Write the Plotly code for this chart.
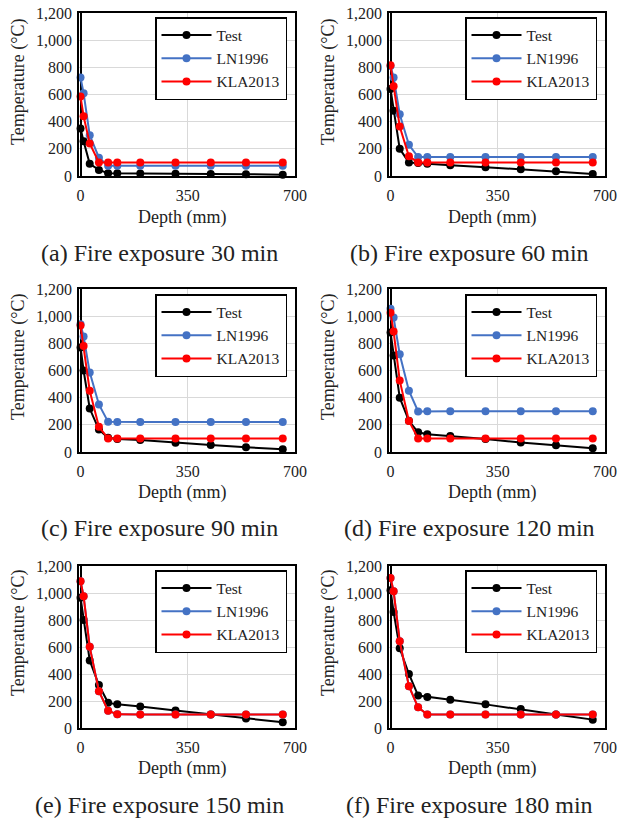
import plotly.graph_objects as go

# ---------------- data ----------------
depth = [0, 10, 30, 60, 90, 120, 195, 310, 425, 540, 660]

test_30 = [350, 255, 90, 45, 20, 20, 18, 16, 15, 13, 10]
ln_30 = [725, 610, 300, 135, 75, 75, 75, 75, 75, 75, 75]
kla_30 = [585, 440, 240, 100, 100, 100, 100, 100, 100, 100, 100]

test_60 = [640, 480, 200, 100, 95, 90, 80, 65, 50, 35, 15]
ln_60 = [810, 725, 455, 230, 140, 140, 140, 140, 140, 140, 140]
kla_60 = [815, 660, 365, 145, 100, 100, 100, 100, 100, 100, 100]

test_90 = [770, 600, 320, 165, 105, 95, 88, 68, 52, 35, 20]
ln_90 = [940, 850, 586, 350, 222, 220, 220, 220, 220, 220, 220]
kla_90 = [931, 781, 451, 185, 100, 100, 100, 100, 100, 100, 100]

test_120 = [880, 710, 400, 230, 145, 130, 118, 95, 70, 50, 27]
ln_120 = [1055, 990, 720, 451, 298, 300, 300, 300, 300, 300, 300]
kla_120 = [1025, 887, 527, 229, 100, 100, 100, 100, 100, 100, 100]

test_150 = [965, 800, 500, 318, 187, 175, 160, 130, 100, 70, 42]
ln_150 = [1087, 976, 601, 273, 128, 101, 100, 100, 100, 100, 100]
kla_150 = [1087, 976, 601, 273, 128, 101, 100, 100, 100, 100, 100]

test_180 = [1020, 860, 590, 400, 240, 230, 210, 175, 140, 100, 62]
ln_180 = [1111, 1013, 643, 310, 153, 100, 100, 100, 100, 100, 100]
kla_180 = [1111, 1013, 643, 310, 153, 100, 100, 100, 100, 100, 100]

captions = ["(a) Fire exposure 30 min", "(b) Fire exposure 60 min",
            "(c) Fire exposure 90 min", "(d) Fire exposure 120 min",
            "(e) Fire exposure 150 min", "(f) Fire exposure 180 min"]
series_names = ["Test", "LN1996", "KLA2013"]
x_ticks = [0, 350, 700]
y_ticks = [0, 200, 400, 600, 800, 1000, 1200]

panels = [
    (test_30, ln_30, kla_30),
    (test_60, ln_60, kla_60),
    (test_90, ln_90, kla_90),
    (test_120, ln_120, kla_120),
    (test_150, ln_150, kla_150),
    (test_180, ln_180, kla_180),
]

# ---------------- layout geometry ----------------
W, H = 625, 828
FONT = "Liberation Serif"
TXT = "#222222"
colors = ["#000000", "#4472C4", "#FF0000"]

col_px = [(79, 295), (389, 605)]
row_px = [(13, 176), (289, 452), (566, 728)]
legend_right_px = [287, 597]
legend_top_px = [17, 294, 570]
caption_x_px = [159, 469]
caption_y_px = [253, 528, 805]
depth_title_x_px = [182, 492]
depth_title_y_px = [217, 492, 768]
temp_title_x_px = [18, 328]
temp_title_y_px = [82, 357, 633]

fig = go.Figure()
annotations = []
layout = dict(
    width=W, height=H,
    margin=dict(l=0, r=0, t=0, b=0, autoexpand=False),
    paper_bgcolor="white", plot_bgcolor="white",
    font=dict(family=FONT, size=16, color=TXT),
    showlegend=True,
)

for i, (tv, lv, kv) in enumerate(panels):
    r, c = divmod(i, 2)
    n = i + 1
    xa = "x" if n == 1 else f"x{n}"
    ya = "y" if n == 1 else f"y{n}"
    lg = "legend" if n == 1 else f"legend{n}"
    for name, vals, col in zip(series_names, (tv, lv, kv), colors):
        fig.add_trace(go.Scatter(
            x=depth, y=vals, name=name, mode="lines+markers",
            line=dict(color=col, width=2),
            marker=dict(color=col, size=8, symbol="circle"),
            xaxis=xa, yaxis=ya, legend=lg, cliponaxis=False,
        ))
    x0, x1 = col_px[c]
    y0, y1 = row_px[r]
    xkey = "xaxis" if n == 1 else f"xaxis{n}"
    ykey = "yaxis" if n == 1 else f"yaxis{n}"
    layout[xkey] = dict(
        domain=[x0 / W, x1 / W], anchor=ya, range=[-5, 700],
        tickvals=x_ticks, ticks="", showgrid=True, gridcolor="#D9D9D9", gridwidth=1,
        showline=True, linecolor="black", linewidth=1.5, mirror=True,
        zeroline=True, zerolinecolor="black", zerolinewidth=1.5,
        tickfont=dict(family=FONT, size=16, color=TXT), ticklabelstandoff=4,
        automargin=False,
    )
    layout[ykey] = dict(
        domain=[1 - y1 / H, 1 - y0 / H], anchor=xa, range=[0, 1200],
        tickvals=y_ticks, tickformat=",d", ticks="", showgrid=True,
        gridcolor="#D9D9D9", gridwidth=1,
        showline=True, linecolor="black", linewidth=1.5, mirror=True,
        zeroline=False,
        tickfont=dict(family=FONT, size=16, color=TXT), ticklabelstandoff=2,
        automargin=False,
    )
    layout[lg] = dict(
        x=legend_right_px[c] / W, xanchor="right",
        y=1 - legend_top_px[r] / H, yanchor="top",
        bgcolor="white", bordercolor="black", borderwidth=1.5,
        font=dict(family=FONT, size=15.5, color=TXT),
        tracegroupgap=0, itemwidth=50,
    )
    annotations.append(dict(
        text=captions[i], xref="paper", yref="paper",
        x=caption_x_px[c] / W, y=1 - caption_y_px[r] / H,
        xanchor="center", yanchor="middle", showarrow=False,
        font=dict(family=FONT, size=24, color=TXT),
    ))
    annotations.append(dict(
        text="Depth (mm)", xref="paper", yref="paper",
        x=depth_title_x_px[c] / W, y=1 - depth_title_y_px[r] / H,
        xanchor="center", yanchor="middle", showarrow=False,
        font=dict(family=FONT, size=18, color=TXT),
    ))
    annotations.append(dict(
        text="Temperature (°C)", xref="paper", yref="paper",
        x=temp_title_x_px[c] / W, y=1 - temp_title_y_px[r] / H,
        xanchor="center", yanchor="middle", showarrow=False, textangle=-90,
        font=dict(family=FONT, size=18, color=TXT),
    ))

layout["annotations"] = annotations
fig.update_layout(**layout)
fig.write_html(
    "out.html",
    config={"displayModeBar": False},
    post_script="document.body.style.margin='0';document.body.style.overflow='hidden';",
)
